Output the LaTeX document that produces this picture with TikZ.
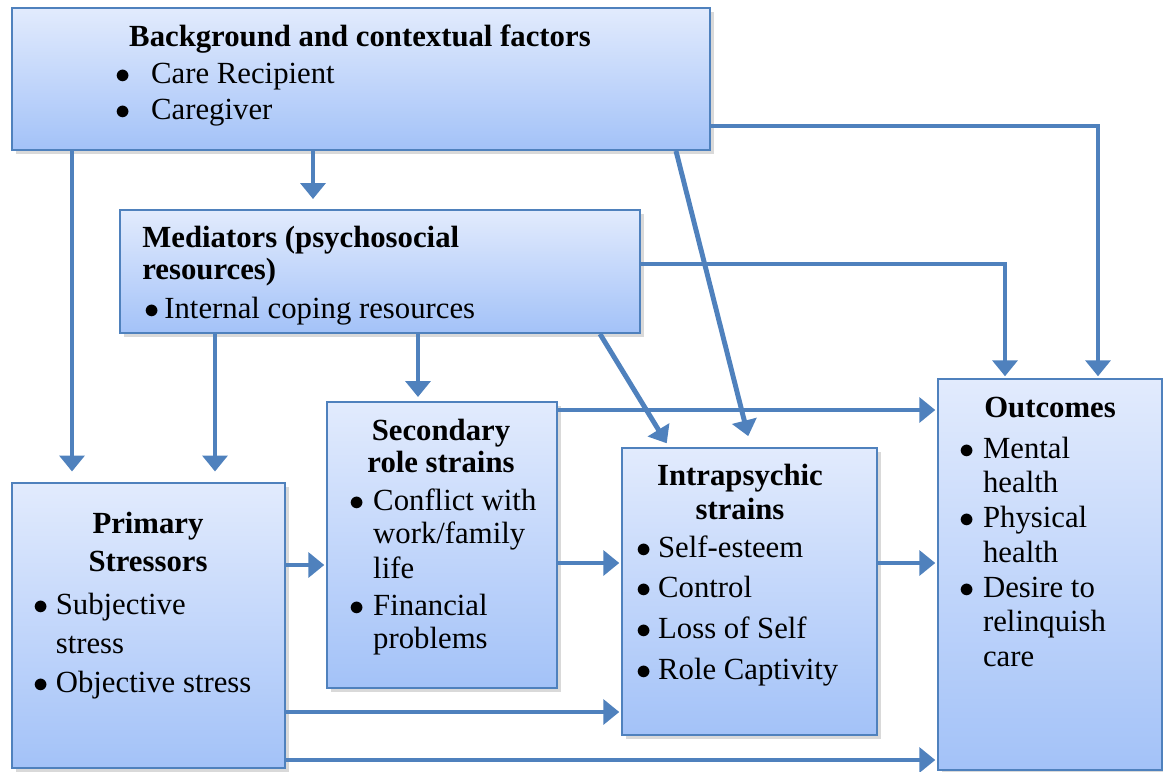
\documentclass[tikz,border=0pt]{standalone}
\usepackage{fontspec}
\setmainfont{Liberation Serif}
\usetikzlibrary{arrows.meta}
\usetikzlibrary{fit}
\usetikzlibrary{shadows}

\definecolor{linkblue}{RGB}{79,129,189}
\definecolor{boxtop}{RGB}{226,235,253}
\definecolor{boxbottom}{RGB}{163,194,248}

\newcommand{\blt}{$\bullet$}

\tikzset{
    box/.style={draw=linkblue, line width=1.1pt, top color=boxtop, bottom color=boxbottom,
        inner sep=0pt, drop shadow={shadow xshift=2pt, shadow yshift=-2pt, opacity=0.3}},
    link/.style={draw=linkblue, line width=2.8pt, -{Triangle[width=14pt,length=9pt]}},
    txt/.style={inner sep=0pt, font=\fontsize{17.5}{19.6}\selectfont},
    heading/.style={inner sep=0pt, font=\fontsize{17.5}{19.6}\selectfont\bfseries}
}

\begin{document}
\begin{tikzpicture}[x=0.02cm, y=-0.02cm]
	\useasboundingbox (0,0) rectangle (1163,771);
	% boxes
	\node[box, fit={(12,8) (710,150)}] (bg) {};
	\node[box, fit={(120,210) (640,333)}] (med) {};
	\node[box, fit={(12,483) (285,768)}] (prim) {};
	\node[box, fit={(327,402) (557,688)}] (sec) {};
	\node[box, fit={(622,448) (877,735)}] (intra) {};
	\node[box, fit={(938,379) (1162,770)}] (out) {};
	% links from background and mediators
	\draw[link, shorten >=6pt] (72,0 |- bg.south) -- (72,0 |- prim.north);
	\draw[link, shorten >=5.7pt] (313,0 |- bg.south) -- (313,0 |- med.north);
	\draw[link, shorten >=6.4pt] (676,0 |- bg.south) -- (751,0 |- intra.north);
	\draw[link, shorten >=1pt] (bg.east |- 0,126) -| (1098,0 |- out.north);
	\draw[link, shorten >=1pt] (med.east |- 0,264) -| (1005,0 |- out.north);
	\draw[link, shorten >=6pt] (215,0 |- med.south) -- (215,0 |- prim.north);
	\draw[link, shorten >=2.3pt] (418,0 |- med.south) -- (418,0 |- sec.north);
	\draw[link, shorten >=2.5pt] (600,0 |- med.south) -- (669,0 |- intra.north);
	% links between stressors and outcomes
	\draw[link, shorten >=1pt] (sec.east |- 0,410) -- (out.west |- 0,410);
	\draw[link, shorten >=1pt] (prim.east |- 0,565) -- (sec.west |- 0,565);
	\draw[link, shorten >=1pt] (sec.east |- 0,563) -- (intra.west |- 0,563);
	\draw[link, shorten >=1pt] (intra.east |- 0,563) -- (out.west |- 0,563);
	\draw[link, shorten >=1pt] (prim.east |- 0,712) -- (intra.west |- 0,712);
	\draw[link, shorten >=1pt] (prim.east |- 0,760) -- (out.west |- 0,760);
	% texts
	\node[heading, anchor=base] (bg-title) at (360,46) {Background and contextual factors};
	\node[txt, anchor=base west, font=\fontsize{17.5}{21}\selectfont] (bg-list) at (115,83)
		{\begin{tabular}[t]{@{}p{20.4pt}@{}l@{}}\blt & Care Recipient\\ \blt & Caregiver\end{tabular}};
	\node[heading, anchor=base west, font=\fontsize{17.5}{18.7}\selectfont\bfseries] (med-title) at (142,247)
		{\begin{tabular}[t]{@{}l@{}}Mediators (psychosocial\\resources)\end{tabular}};
	\node[txt, anchor=base west] (med-list) at (144,318)
		{\begin{tabular}[t]{@{}p{11.4pt}@{}l@{}}\blt & Internal coping resources\end{tabular}};
	\node[heading, anchor=base, font=\fontsize{17.5}{22.1}\selectfont\bfseries] (prim-title) at (148,533)
		{\begin{tabular}[t]{@{}c@{}}Primary\\Stressors\end{tabular}};
	\node[txt, anchor=base west, font=\fontsize{17.5}{22.4}\selectfont] (prim-list) at (33,614)
		{\begin{tabular}[t]{@{}p{12.8pt}@{}l@{}}\blt & Subjective\\ & stress\\ \blt & Objective stress\end{tabular}};
	\node[heading, anchor=base, font=\fontsize{17.5}{18.7}\selectfont\bfseries] (sec-title) at (441,440)
		{\begin{tabular}[t]{@{}c@{}}Secondary\\role strains\end{tabular}};
	\node[txt, anchor=base west, font=\fontsize{17.5}{19}\selectfont] (sec-list) at (349,510)
		{\begin{tabular}[t]{@{}p{13.6pt}@{}l@{}}\blt & Conflict with\\ & work/family\\[1pt] & life\\[2pt] \blt & Financial\\ & problems\end{tabular}};
	\node[heading, anchor=base, font=\fontsize{17.5}{19.8}\selectfont\bfseries] (intra-title) at (740,485)
		{\begin{tabular}[t]{@{}c@{}}Intrapsychic\\strains\end{tabular}};
	\node[txt, anchor=base west, font=\fontsize{17.5}{23.2}\selectfont] (intra-list) at (636,557)
		{\begin{tabular}[t]{@{}p{12.4pt}@{}l@{}}\blt & Self-esteem\\ \blt & Control\\ \blt & Loss of Self\\ \blt & Role Captivity\end{tabular}};
	\node[heading, anchor=base] (out-title) at (1050,417) {Outcomes};
	\node[txt, anchor=base west, font=\fontsize{17.5}{19.4}\selectfont] (out-list) at (959,458)
		{\begin{tabular}[t]{@{}p{13.5pt}@{}l@{}}\blt & Mental\\ & health\\[1pt] \blt & Physical\\ & health\\[1pt] \blt & Desire to\\ & relinquish\\ & care\end{tabular}};
\end{tikzpicture}
\end{document}
